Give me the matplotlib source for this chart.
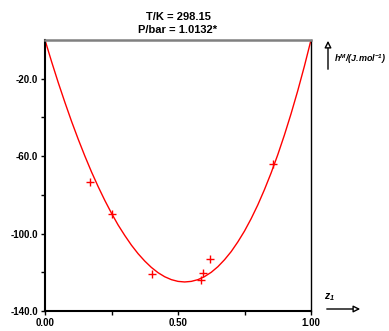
import matplotlib
matplotlib.use("Agg")
import matplotlib.pyplot as plt

plt.rcParams["font.family"] = ["Liberation Sans", "DejaVu Sans"]
plt.rcParams["mathtext.fontset"] = "custom"
plt.rcParams["mathtext.rm"] = "Liberation Sans:bold:italic"
plt.rcParams["mathtext.it"] = "Liberation Sans:bold:italic"
plt.rcParams["mathtext.bf"] = "Liberation Sans:bold:italic"

# experimental points
z1_exp = [0.169, 0.252, 0.403, 0.588, 0.593, 0.619, 0.857]
hm_exp = [-73.2, -90.0, -121.0, -124.0, -120.2, -113.3, -63.9]

# fitted curve
z1_fit = [0.0, 0.025, 0.05, 0.075, 0.10, 0.125, 0.15, 0.175, 0.20, 0.225,
          0.25, 0.275, 0.30, 0.325, 0.35, 0.375, 0.40, 0.425, 0.45, 0.475,
          0.50, 0.525, 0.55, 0.575, 0.60, 0.625, 0.65, 0.675, 0.70, 0.725,
          0.75, 0.775, 0.80, 0.825, 0.85, 0.875, 0.90, 0.925, 0.95, 0.975, 1.0]
hm_fit = [0.0, -11.3, -22.1, -32.3, -42.1, -51.3, -60.0, -68.2, -75.8, -82.9,
          -89.5, -95.6, -101.0, -106.0, -110.4, -114.2, -117.5, -120.2, -122.3, -123.8,
          -124.7, -125.0, -124.7, -123.8, -122.2, -120.0, -117.1, -113.5, -109.3, -104.3,
          -98.7, -92.3, -85.2, -77.3, -68.7, -59.3, -49.1, -38.1, -26.3, -13.6, 0.0]

fig = plt.figure(figsize=(3.89, 3.31), dpi=100)
ax = fig.add_axes([45 / 389, 20 / 331, 266 / 389, 271 / 331])

ax.plot(z1_fit, hm_fit, color="red", lw=1.0, solid_joinstyle="round")
ax.plot(z1_exp, hm_exp, ls="none", marker="+", color="red", ms=6, mew=1.0)

ax.set_xlim(0, 1)
ax.set_ylim(-140, 0)
ax.set_xticks([0, 0.5, 1.0])
ax.set_xticklabels(["0.00", "0.50", "1.00"])
ax.set_xticks([0.25, 0.75], minor=True)
ax.set_yticks([-20, -60, -100, -140])
ax.set_yticklabels(["-20.0", "-60.0", "-100.0", "-140.0"])
ax.set_yticks([-40, -80, -120], minor=True)
ax.tick_params(which="both", direction="out", length=3, width=1, labelsize=7, pad=2)
for lab in ax.get_xticklabels() + ax.get_yticklabels():
    lab.set_fontweight("bold")

ax.spines["top"].set_color("#808080")
ax.spines["top"].set_linewidth(1.8)
ax.spines["left"].set_linewidth(1.5)
ax.spines["bottom"].set_linewidth(1.5)
ax.spines["right"].set_linewidth(1.0)

fig.text(178 / 389, 1 - 17 / 331, "T/K = 298.15", ha="center", va="center",
         fontsize=8, fontweight="bold")
fig.text(178 / 389, 1 - 30 / 331, "P/bar = 1.0132*", ha="center", va="center",
         fontsize=8, fontweight="bold")

# axis label arrows
arr = dict(arrowstyle="-|>", fc="white", ec="black", lw=1.0, mutation_scale=10)
fig.add_artist(matplotlib.patches.FancyArrowPatch(
    (328 / 389, 1 - 72 / 331), (328 / 389, 1 - 38 / 331),
    transform=fig.transFigure, **arr))
fig.add_artist(matplotlib.patches.FancyArrowPatch(
    (324 / 389, 1 - 309 / 331), (363 / 389, 1 - 309 / 331),
    transform=fig.transFigure, **arr))
fig.text(334 / 389, 1 - 59 / 331, r"h$^{M}$/(J.mol$^{-1}$)", ha="left", va="center",
         fontsize=6.5, fontweight="bold", fontstyle="italic")
fig.text(324 / 389, 1 - 297 / 331, r"$z_{1}$", ha="left", va="center", fontsize=7.5)

fig.savefig("out.png", dpi=100)
